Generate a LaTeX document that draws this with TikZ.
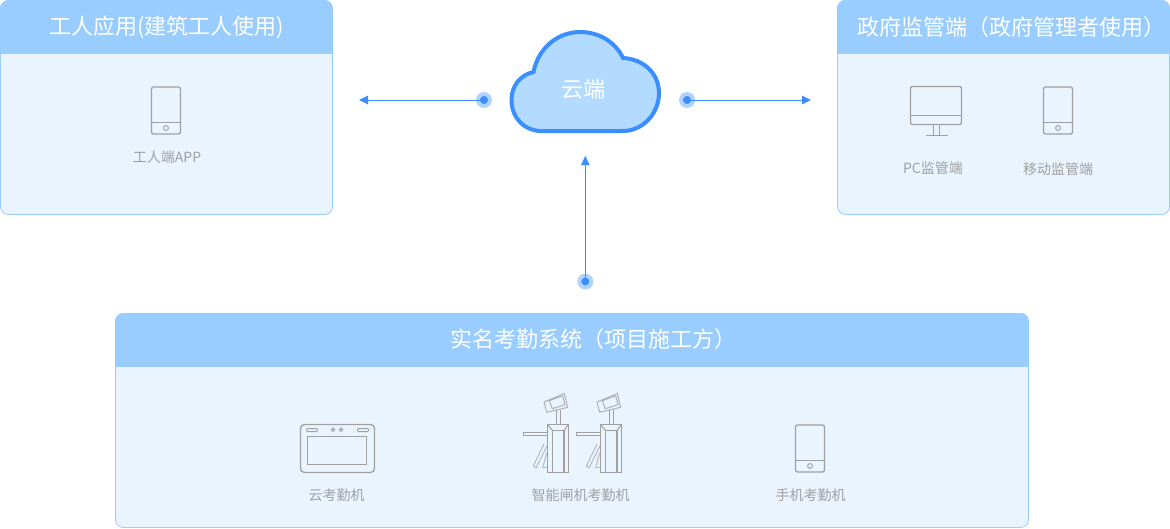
\documentclass[tikz,border=0pt]{standalone}
\usepackage{fontspec}
\setmainfont{Noto Sans CJK SC}
\usetikzlibrary{positioning,calc,arrows.meta}
\definecolor{headblue}{HTML}{99CCFF}
\definecolor{bodyblue}{HTML}{E9F4FF}
\definecolor{lineblue}{HTML}{3A8EFF}
\definecolor{haloblue}{HTML}{B0D4FF}
\definecolor{cloudblue}{HTML}{B3DAFF}
\definecolor{icongray}{HTML}{A0A0A0}
\definecolor{textgray}{HTML}{A0A0A0}
\tikzset{
    panel/.style={draw=headblue, line width=0.8pt, fill=bodyblue, rounded corners=8pt},
    title/.style={text=white, font=\fontsize{22}{24}\selectfont, inner sep=0pt},
    label/.style={text=textgray, font=\fontsize{14}{16}\selectfont, inner sep=0pt},
    icon/.style={draw=icongray, line width=1.3pt, rounded corners=2pt},
    iconthin/.style={draw=icongray, line width=1pt},
    dotnode/.style={circle, fill=lineblue, draw=haloblue, line width=4pt, minimum size=12pt, inner sep=0pt},
    link/.style={draw=lineblue, line width=1pt, -{Triangle[length=9pt,width=8.5pt]}},
}
\begin{document}
\begin{tikzpicture}[x=1pt,y=-1pt]
    \useasboundingbox (0,0) rectangle (1170,528);
    % panels
    \foreach \xa/\ya/\xb/\yb in {0.5/0.5/332.5/214.5, 837.5/0.5/1169.5/214.5, 115.5/313.5/1028.5/527.5} {
        \draw[panel] (\xa,\ya) rectangle (\xb,\yb);
        \begin{scope}
            \clip[rounded corners=8pt] (\xa-0.4,\ya-0.4) rectangle (\xb+0.4,\yb);
            \fill[headblue] (\xa-0.4,\ya-0.4) rectangle (\xb+0.4,\ya+53.5);
        \end{scope}
    }
    \node[title] (worker) at (166.5,27.5) {工人应用(建筑工人使用)};
    \node[title] (govern) at (1011,27) {政府监管端（政府管理者使用）};
    \node[title] (project) at (593,339.5) {实名考勤系统（项目施工方）};
    % cloud
    \draw[draw=lineblue, fill=cloudblue, line width=4pt] (545,131) .. controls (525,132.5) and (511.5,118) .. (511.5,100)
        .. controls (511.5,86) and (520,75) .. (533.5,72) .. controls (538,48) and (558,32) .. (580,32)
        .. controls (600,32) and (616,43) .. (623,58) .. controls (644,59) and (659,74) .. (659,93)
        .. controls (659,114) and (642,132) .. (621,131) -- cycle;
    \node[title] (cloud) at (583.5,89.5) {云端};
    % connectors
    \node[dotnode] (dotleft) at (484,100) {};
    \node[dotnode] (dotright) at (687,100) {};
    \node[dotnode] (dotdown) at (585.3,281.5) {};
    \coordinate (endleft) at (359,100);
    \coordinate (endright) at (811,100);
    \coordinate (endup) at (585.3,156);
    \draw[link] (dotleft.center) -- (endleft);
    \draw[link] (dotright.center) -- (endright);
    \draw[link] (dotdown.center) -- (endup);
    % phones
    \foreach \x/\y in {166/87, 1058/87, 810/425} {
        \draw[icon] (\x-14.5,\y) rectangle (\x+14.5,\y+47);
        \draw[iconthin] (\x-14.5,\y+35) -- (\x+14.5,\y+35);
        \draw[iconthin] (\x,\y+41) circle (2.4);
    }
    % monitor
    \draw[icon] (910.5,86.5) rectangle (961.5,124.5);
    \draw[iconthin] (910.5,115.5) -- (961.5,115.5);
    \draw[iconthin] (933.5,124.5) -- (933.5,135) (939.5,124.5) -- (939.5,135) (926,135) -- (948,135);
    % face terminal
    \draw[icon, rounded corners=4pt] (300.5,424.5) rectangle (374.5,472.5);
    \draw[iconthin] (307.5,436.5) rectangle (366.5,464.5);
    \draw[iconthin, rounded corners=1pt] (306.5,428.5) rectangle (317.5,431.5);
    \draw[iconthin, rounded corners=1pt] (357.5,428.5) rectangle (368.5,431.5);
    \draw[iconthin] (333,429.8) circle (1.7) (341,429.8) circle (1.7);
    % turnstiles
    \foreach \d in {0,53} {
        \begin{scope}[xshift=\d pt]
            \draw[iconthin, line width=0.9pt, line join=round, opacity=0.75] (544,444) -- (533.3,466) -- (536,468) -- (547.3,445.3);
            \draw[iconthin, line width=0.9pt, line join=round, opacity=0.75] (546.7,453) -- (542.7,467.5) -- (546.5,467.5);
            \draw[iconthin, line width=1.3pt] (547.5,424.5) rectangle (568.5,472.5);
            \draw[iconthin, line width=1.3pt] (552.5,430.5) rectangle (564,472.5);
            \draw[iconthin] (547.5,424.5) -- (552.5,430.5) (568.5,424.5) -- (564,430.5);
            \draw[iconthin] (523.5,432.5) rectangle (547.5,435.5);
            \draw[iconthin] (556.7,409.7) -- (556.7,424.5) (560.7,409.7) -- (560.7,424.5);
            \draw[iconthin, line join=round, opacity=0.8] (544,402) -- (564.3,393.5) -- (567.7,407.3) -- (546.7,412.3) -- cycle;
            \draw[iconthin, line join=round, opacity=0.8] (549.3,400.7) -- (562.7,395.8) -- (565,404.7) -- (552.3,408.7) -- cycle;
        \end{scope}
    }
    % labels
    \node[label] (app) at (167,157) {工人端APP};
    \node[label] (pc) at (933,168) {PC监管端};
    \node[label] (mobile) at (1058,169) {移动监管端};
    \node[label] (terminal) at (336.5,495) {云考勤机};
    \node[label] (gate) at (580.5,495) {智能闸机考勤机};
    \node[label] (handset) at (810.5,495) {手机考勤机};
\end{tikzpicture}
\end{document}
